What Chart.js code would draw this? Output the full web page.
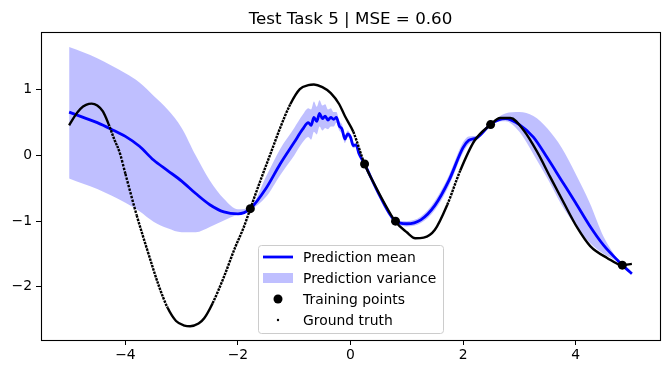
<!DOCTYPE html>
<html>
<head>
<meta charset="utf-8">
<script src="https://cdn.jsdelivr.net/npm/chart.js@4/dist/chart.umd.min.js"></script>
<style>
  html, body { margin: 0; padding: 0; background: #fff; }
  #wrap { width: 670px; height: 374px; }
</style>
</head>
<body>
<div id="wrap"><canvas id="myChart" width="670" height="374"></canvas></div>
<script>
// values
const titleText = 'Test Task 5 | MSE = 0.60';

const xTicks = [-4, -2, 0, 2, 4];
const yTicks = [-2, -1, 0, 1];

const bandX = [-5, -4.75, -4.5, -4.25, -4, -3.75, -3.5, -3.25, -3, -2.75, -2.5, -2.25, -2, -1.78,
  -1.5, -1.25, -1, -0.85, -0.75, -0.7, -0.65, -0.6, -0.55, -0.5, -0.45, -0.4, -0.35, -0.3, -0.25,
  -0.2, -0.15, -0.1, -0.05, 0, 0.05, 0.1, 0.15, 0.25, 0.5, 0.8, 1.0, 1.25, 1.5, 1.75, 2.0, 2.1,
  2.25, 2.5, 2.75, 3.0, 3.25, 3.5, 3.75, 4.0, 4.25, 4.5, 4.75, 4.83, 5.0];

const meanY = [0.66, 0.58, 0.50, 0.40, 0.29, 0.14, -0.07, -0.23, -0.39, -0.58, -0.75, -0.86, -0.89, -0.81,
  -0.50, -0.13, 0.20, 0.40, 0.50, 0.46, 0.58, 0.52, 0.64, 0.56, 0.60, 0.54, 0.58, 0.55, 0.58,
  0.45, 0.40, 0.25, 0.33, 0.28, 0.15, 0.16, 0.03, -0.13, -0.58, -1.00, -1.04, -0.98, -0.76, -0.38, 0.12, 0.23,
  0.27, 0.48, 0.56, 0.47, 0.28, -0.04, -0.38, -0.72, -1.07, -1.37, -1.60, -1.67, -1.80];

const upperY = [1.65, 1.57, 1.48, 1.37, 1.25, 1.11, 0.91, 0.70, 0.42, 0.00, -0.38, -0.66, -0.82, -0.79,
  -0.32, 0.10, 0.42, 0.62, 0.72, 0.70, 0.82, 0.74, 0.84, 0.76, 0.78, 0.70, 0.72, 0.66, 0.66,
  0.52, 0.47, 0.31, 0.38, 0.32, 0.19, 0.19, 0.06, -0.12, -0.55, -0.98, -1.00, -0.93, -0.69, -0.30, 0.20, 0.29,
  0.30, 0.49, 0.64, 0.66, 0.60, 0.41, 0.12, -0.28, -0.72, -1.24, -1.58, -1.66, -1.78];

const lowerY = [-0.35, -0.43, -0.51, -0.61, -0.72, -0.85, -1.01, -1.11, -1.17, -1.17, -1.09, -0.99, -0.90, -0.83,
  -0.63, -0.30, 0.00, 0.20, 0.28, 0.24, 0.36, 0.32, 0.44, 0.38, 0.42, 0.40, 0.44, 0.44, 0.50,
  0.38, 0.33, 0.19, 0.28, 0.24, 0.11, 0.13, 0.00, -0.14, -0.61, -1.02, -1.08, -1.03, -0.83, -0.46, 0.04, 0.17,
  0.24, 0.47, 0.52, 0.36, 0.02, -0.35, -0.75, -1.07, -1.33, -1.50, -1.62, -1.68, -1.82];

const truthX = [-5.0, -4.9, -4.8, -4.7, -4.6, -4.5, -4.4, -4.3, -4.2, -4.1, -4.0, -3.8, -3.6, -3.4, -3.25,
  -3.1, -2.95, -2.85, -2.7, -2.6, -2.45, -2.25, -2.05, -1.9, -1.78, -1.6, -1.42, -1.25, -1.07, -0.9,
  -0.75, -0.65, -0.5, -0.35, -0.2, -0.1, 0.05, 0.25, 0.45, 0.65, 0.8, 1.0, 1.15, 1.3, 1.5, 1.72,
  1.95, 2.2, 2.49, 2.66, 2.84, 3.08, 3.32, 3.55, 3.79, 4.03, 4.26, 4.56, 4.83, 5.0];

const truthY = [0.46, 0.60, 0.71, 0.77, 0.79, 0.76, 0.67, 0.48, 0.25, 0.04, -0.28, -0.91, -1.47, -2.00, -2.32,
  -2.52, -2.59, -2.60, -2.56, -2.48, -2.25, -1.85, -1.40, -1.10, -0.81, -0.38, 0.03, 0.42, 0.78, 1.01,
  1.07, 1.08, 1.04, 0.95, 0.78, 0.60, 0.36, -0.13, -0.48, -0.80, -1.01, -1.17, -1.26, -1.25, -1.13, -0.75,
  -0.23, 0.22, 0.47, 0.57, 0.57, 0.38, 0.05, -0.33, -0.72, -1.10, -1.38, -1.56, -1.67, -1.65];

const trainX = [-1.78, 0.25, 0.80, 2.49, 4.83];
const trainY = [-0.81, -0.13, -1.00, 0.47, -1.67];

const legendItems = ['Prediction mean', 'Prediction variance', 'Training points', 'Ground truth'];

const FONT = "'DejaVu Sans', sans-serif";
const toXY = (xs, ys) => xs.map((x, i) => ({ x: x, y: ys[i] }));
const fmt = v => (v < 0 ? '\u2212' + Math.abs(v) : String(v));

// steep parts of the dotted truth curve show gaps between dots, flat parts look solid
const dotDash = c => {
  const dx = Math.abs(c.p1.x - c.p0.x);
  const dy = Math.abs(c.p1.y - c.p0.y);
  const s = dx > 0 ? dy / dx : 10;
  const sp = Math.sqrt(1 + s * s);
  return sp > 2.5 ? [2.5, Math.max(0.9, (sp - 2.2) * 0.8)] : [];
};

// frame, title and legend drawn on the canvas
const decorPlugin = {
  id: 'decor',
  afterDatasetsDraw(chart) {
    const ctx = chart.ctx;
    const a = chart.chartArea;
    ctx.save();
    ctx.strokeStyle = '#000';
    ctx.lineWidth = 1.1;
    ctx.strokeRect(Math.round(a.left) + 0.5, Math.round(a.top) + 0.5,
      Math.round(a.right - a.left), Math.round(a.bottom - a.top));
    ctx.restore();
  },
  afterDraw(chart) {
    const ctx = chart.ctx;
    const a = chart.chartArea;
    ctx.save();
    // title
    ctx.fillStyle = '#000';
    ctx.font = '16.7px ' + FONT;
    ctx.textAlign = 'center';
    ctx.textBaseline = 'alphabetic';
    ctx.fillText(titleText, (a.left + a.right) / 2, a.top - 8);

    // legend
    const bx = 258.5, by = 245.5, bw = 185, bh = 88;
    ctx.beginPath();
    ctx.roundRect(bx, by, bw, bh, 3);
    ctx.fillStyle = 'rgba(255,255,255,0.8)';
    ctx.fill();
    ctx.strokeStyle = '#cccccc';
    ctx.lineWidth = 1;
    ctx.stroke();

    const rowY = [257, 278, 299, 320];
    const hx0 = 263, hx1 = 293, tx = 303;
    // mean
    ctx.strokeStyle = '#0000ff';
    ctx.lineWidth = 2.8;
    ctx.beginPath();
    ctx.moveTo(hx0, rowY[0]);
    ctx.lineTo(hx1, rowY[0]);
    ctx.stroke();
    // variance
    ctx.fillStyle = 'rgba(0,0,255,0.25)';
    ctx.fillRect(hx0, rowY[1] - 5, hx1 - hx0, 10);
    // training
    ctx.fillStyle = '#000';
    ctx.beginPath();
    ctx.arc((hx0 + hx1) / 2, rowY[2], 4.5, 0, Math.PI * 2);
    ctx.fill();
    // ground truth
    ctx.beginPath();
    ctx.arc((hx0 + hx1) / 2, rowY[3], 1.2, 0, Math.PI * 2);
    ctx.fill();

    ctx.font = '13.9px ' + FONT;
    ctx.textAlign = 'left';
    ctx.textBaseline = 'middle';
    legendItems.forEach((t, i) => ctx.fillText(t, tx, rowY[i] + 1));
    ctx.restore();
  }
};

const ctx = document.getElementById('myChart').getContext('2d');
new Chart(ctx, {
  type: 'line',
  data: {
    datasets: [
      {
        label: 'Training points',
        data: toXY(trainX, trainY),
        showLine: false,
        pointRadius: 4.5,
        pointBackgroundColor: '#000',
        pointBorderWidth: 0,
        borderColor: '#000'
      },
      {
        label: 'Ground truth',
        data: toXY(truthX, truthY),
        borderColor: '#000',
        borderWidth: 2.4,
        segment: { borderDash: dotDash },
        cubicInterpolationMode: 'monotone',
        pointRadius: 0,
        fill: false
      },
      {
        label: 'Prediction mean',
        data: toXY(bandX, meanY),
        borderColor: '#0000ff',
        borderWidth: 2.8,
        cubicInterpolationMode: 'monotone',
        pointRadius: 0,
        fill: false
      },
      {
        label: 'upper',
        data: toXY(bandX, upperY),
        borderWidth: 0,
        borderColor: 'rgba(0,0,0,0)',
        backgroundColor: 'rgba(0,0,255,0.25)',
        cubicInterpolationMode: 'monotone',
        pointRadius: 0,
        fill: '+1'
      },
      {
        label: 'lower',
        data: toXY(bandX, lowerY),
        borderWidth: 0,
        borderColor: 'rgba(0,0,0,0)',
        cubicInterpolationMode: 'monotone',
        pointRadius: 0,
        fill: false
      }
    ]
  },
  options: {
    responsive: false,
    animation: false,
    events: [],
    layout: { padding: { top: 32, right: 10, left: 0, bottom: 0 } },
    plugins: {
      legend: { display: false },
      title: { display: false },
      tooltip: { enabled: false }
    },
    scales: {
      x: {
        type: 'linear',
        min: -5.5,
        max: 5.5,
        afterBuildTicks: s => { s.ticks = xTicks.map(v => ({ value: v })); },
        afterFit: s => { s.height = 34; },
        border: { display: false },
        grid: { drawOnChartArea: false, tickLength: 5, tickColor: '#000', tickWidth: 1 },
        ticks: { color: '#000', padding: 2, maxRotation: 0, font: { family: FONT, size: 13.9 }, callback: fmt }
      },
      y: {
        type: 'linear',
        min: -2.81,
        max: 1.88,
        afterBuildTicks: s => { s.ticks = yTicks.map(v => ({ value: v })); },
        afterFit: s => { s.width = 41; },
        border: { display: false },
        grid: { drawOnChartArea: false, tickLength: 5, tickColor: '#000', tickWidth: 1 },
        ticks: { color: '#000', padding: 4, font: { family: FONT, size: 13.9 }, callback: fmt }
      }
    }
  },
  plugins: [decorPlugin]
});
</script>
</body>
</html>
